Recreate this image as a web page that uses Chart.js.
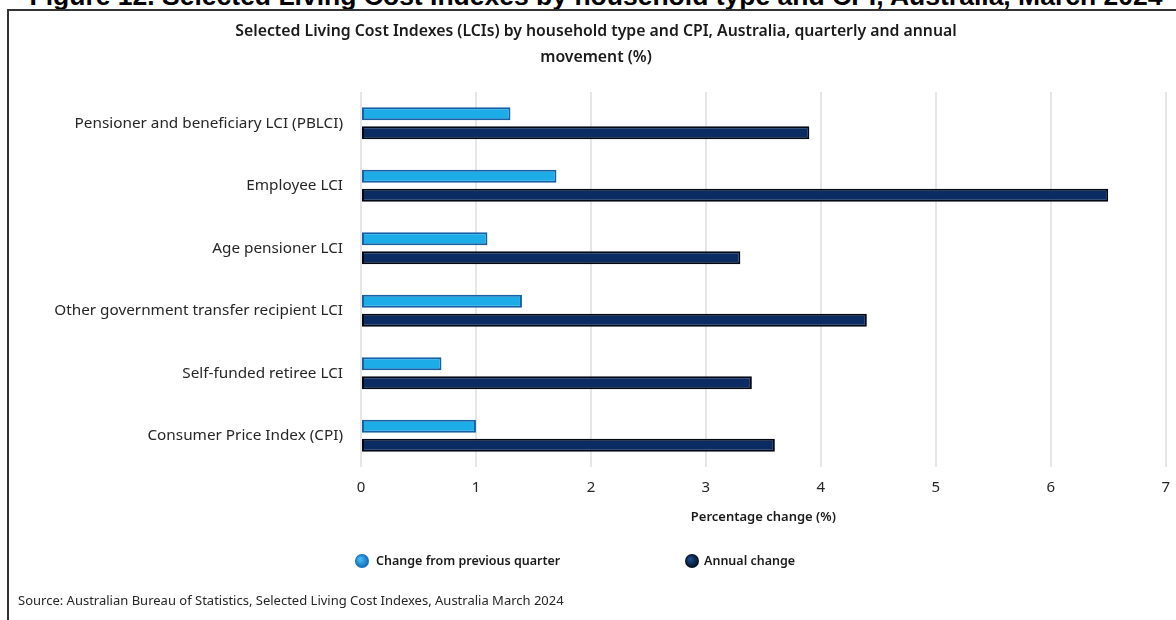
<!DOCTYPE html>
<html>
<head>
<meta charset="utf-8">
<script src="https://cdn.jsdelivr.net/npm/chart.js@4/dist/chart.umd.min.js"></script>
<style>
  html, body { margin: 0; padding: 0; background: #fff; overflow: hidden; width: 1176px; height: 620px; }
  .fig-title {
    position: absolute; left: 0; width: 1192px; top: -15px;
    text-align: center; white-space: nowrap;
    font: bold 26.5px "Liberation Sans", Arial, sans-serif; line-height: 22px; color: #000;
  }
  .frame {
    position: absolute; left: 7px; top: 9px; width: 1300px; height: 700px;
    border: 2px solid #333; box-sizing: border-box;
  }
  #chart { position: absolute; left: 10px; top: 12px; }
</style>
</head>
<body>
<div class="fig-title">Figure 12. Selected Living Cost Indexes by household type and CPI, Australia, March 2024</div>
<div class="frame"></div>
<canvas id="chart" width="1172" height="608"></canvas>
<script>
// Household types and the CPI, top to bottom
const categories = [
  'Pensioner and beneficiary LCI (PBLCI)',
  'Employee LCI',
  'Age pensioner LCI',
  'Other government transfer recipient LCI',
  'Self-funded retiree LCI',
  'Consumer Price Index (CPI)'
];
// Movement in per cent
const quarterlyChange = [1.3, 1.7, 1.1, 1.4, 0.7, 1.0];
const annualChange = [3.9, 6.5, 3.3, 4.4, 3.4, 3.6];
const seriesNames = ['Change from previous quarter', 'Annual change'];
const xTickMin = 0;
const xTickMax = 7;
const xTickStep = 1;

const chartTitle = [
  'Selected Living Cost Indexes (LCIs) by household type and CPI, Australia, quarterly and annual',
  'movement (%)'
];
const xAxisTitle = 'Percentage change (%)';
const sourceNote = 'Source: Australian Bureau of Statistics, Selected Living Cost Indexes, Australia March 2024';

const FONT = '"Noto Sans", "Open Sans", sans-serif';
const TEXT = '#262626';

// Legend with shaded round markers, plus the source line underneath
const legendAndSource = {
  id: 'legendAndSource',
  afterDraw(chart) {
    const ctx = chart.ctx;
    const markers = [
      { x: 352, textX: 366, inner: '#45b8f5', outer: '#0b62b0' },
      { x: 682, textX: 694, inner: '#1a4a8a', outer: '#000814' }
    ];
    const y = 549;
    ctx.save();
    chart.data.datasets.forEach((ds, i) => {
      const m = markers[i];
      const g = ctx.createRadialGradient(m.x - 2, y - 2, 1, m.x, y, 7.5);
      g.addColorStop(0, m.inner);
      g.addColorStop(1, m.outer);
      ctx.beginPath();
      ctx.arc(m.x, y, 7, 0, Math.PI * 2);
      ctx.fillStyle = g;
      ctx.fill();
      ctx.font = '600 12.5px ' + FONT;
      ctx.fillStyle = '#1a1a1a';
      ctx.textBaseline = 'middle';
      ctx.textAlign = 'left';
      ctx.fillText(ds.label, m.textX, y + 0.5);
    });
    ctx.font = '13px ' + FONT;
    ctx.fillStyle = TEXT;
    ctx.textBaseline = 'middle';
    ctx.fillText(sourceNote, 8, 589);
    ctx.restore();
  }
};

new Chart(document.getElementById('chart'), {
  type: 'bar',
  data: {
    labels: categories,
    datasets: [
      {
        label: seriesNames[0],
        data: quarterlyChange,
        backgroundColor: '#1cade9',
        borderColor: '#1560a6',
        borderWidth: 2,
        borderSkipped: false,
        categoryPercentage: 0.608,
        barPercentage: 0.684
      },
      {
        label: seriesNames[1],
        data: annualChange,
        backgroundColor: '#0a2c62',
        borderColor: '#010814',
        borderWidth: 2,
        borderSkipped: false,
        categoryPercentage: 0.608,
        barPercentage: 0.684
      }
    ]
  },
  options: {
    indexAxis: 'y',
    responsive: false,
    animation: false,
    devicePixelRatio: 1,
    layout: { padding: { left: 10, right: 10, top: 0, bottom: 91 } },
    scales: {
      x: {
        min: xTickMin,
        max: xTickMax,
        ticks: {
          stepSize: xTickStep,
          padding: 12,
          color: TEXT,
          font: { family: FONT, size: 15 }
        },
        grid: { color: '#e6e6e6', lineWidth: 2, drawTicks: false },
        border: { display: false },
        title: {
          display: true,
          text: xAxisTitle,
          color: '#1a1a1a',
          font: { family: FONT, size: 13, weight: '600' },
          padding: { top: 0, bottom: 4 }
        },
        afterFit(scale) { scale.height = 62; }
      },
      y: {
        ticks: {
          padding: 18,
          color: TEXT,
          font: { family: FONT, size: 15.3 }
        },
        grid: { display: false, drawTicks: false, tickLength: 0 },
        border: { display: false },
        afterFit(scale) { scale.width = 341; }
      }
    },
    plugins: {
      legend: { display: false },
      tooltip: { enabled: false },
      title: {
        display: true,
        text: chartTitle,
        color: '#1a1a1a',
        font: { family: FONT, size: 15.8, weight: '600', lineHeight: 26 / 15.8 },
        padding: { top: 6, bottom: 22 }
      }
    }
  },
  plugins: [legendAndSource]
});
</script>
</body>
</html>
